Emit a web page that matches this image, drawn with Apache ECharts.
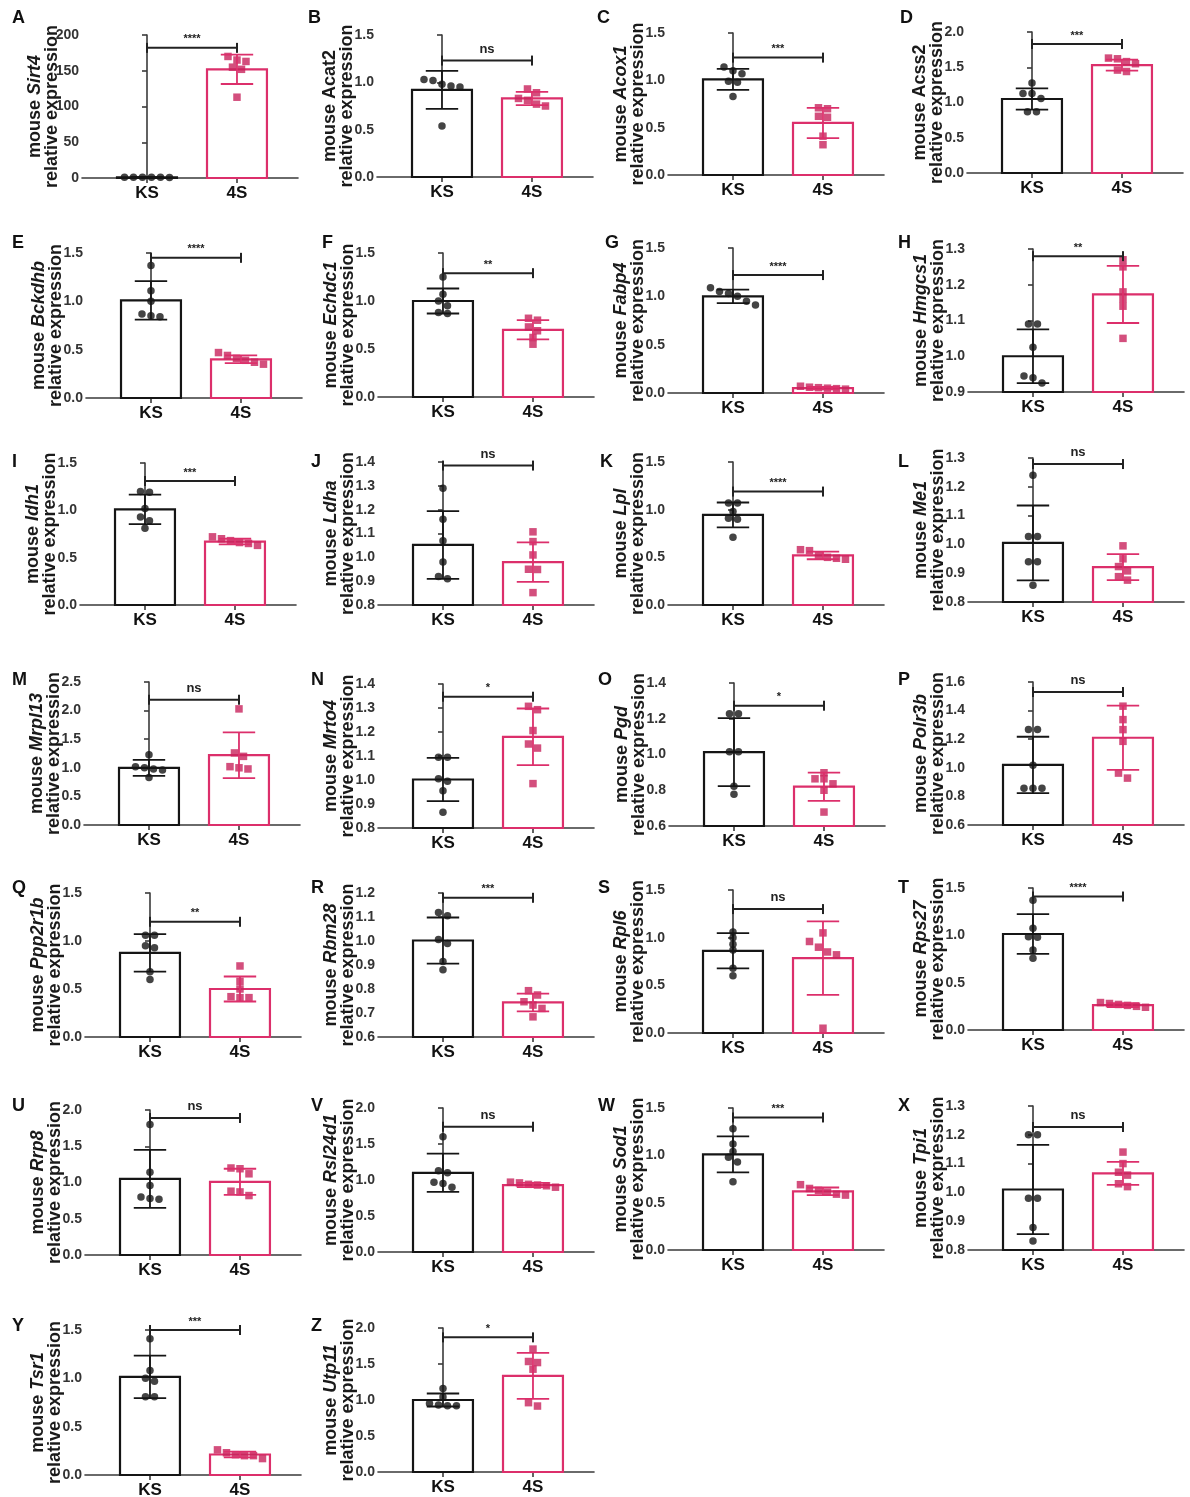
<!DOCTYPE html>
<html>
<head>
<meta charset="utf-8">
<script src="https://cdn.jsdelivr.net/npm/echarts@6/dist/echarts.min.js"></script>
<style>
html,body{margin:0;padding:0;background:#fff;}
#chart{width:1190px;height:1497px;}
</style>
</head>
<body>
<div id="chart"></div>
<script>
// ---------------- DATA ----------------
const panelLetters = ['A','B','C','D','E','F','G','H','I','J','K','L','M','N','O','P','Q','R','S','T','U','V','W','X','Y','Z'];
const genes = ['Sirt4','Acat2','Acox1','Acss2','Bckdhb','Echdc1','Fabp4','Hmgcs1','Idh1','Ldha','Lpl','Me1','Mrpl13','Mrto4','Pgd','Polr3b','Ppp2r1b','Rbm28','Rpl6','Rps27','Rrp8','Rsl24d1','Sod1','Tpi1','Tsr1','Utp11'];
const categories = ['KS','4S'];
const yMin = [0,0,0,0, 0,0,0,0.9, 0,0.8,0,0.8, 0,0.8,0.6,0.6, 0,0.6,0,0, 0,0,0,0.8, 0,0];
const yMax = [200,1.5,1.5,2.0, 1.5,1.5,1.5,1.3, 1.5,1.4,1.5,1.3, 2.5,1.4,1.4,1.6, 1.5,1.2,1.5,1.5, 2.0,2.0,1.5,1.3, 1.5,2.0];
const yInterval = [50,0.5,0.5,0.5, 0.5,0.5,0.5,0.1, 0.5,0.1,0.5,0.1, 0.5,0.1,0.2,0.2, 0.5,0.1,0.5,0.5, 0.5,0.5,0.5,0.1, 0.5,0.5];

const ksMean = [1.0,0.92,1.01,1.05, 1.01,1.0,1.0,1.0, 1.01,1.052,0.945,1.005, 1.0,1.002,1.013,1.02, 0.877,1.002,0.862,1.014, 1.05,1.1,1.01,1.01, 1.015,1.0];
const ksSD   = [0.3,0.2,0.11,0.15, 0.2,0.13,0.07,0.075, 0.155,0.142,0.13,0.13, 0.14,0.09,0.19,0.197, 0.195,0.096,0.185,0.21, 0.4,0.265,0.19,0.155, 0.22,0.09];
const ksPoints = [
  [1.2,1.0,0.9,1.1,0.8,1.0],
  [1.03,1.02,0.98,0.96,0.95,0.54],
  [1.14,1.1,1.07,0.99,0.98,0.83],
  [1.276,1.126,1.126,1.056,0.869,0.869],
  [1.37,1.11,1.0,0.87,0.85,0.84],
  [1.25,1.07,1.0,0.95,0.88,0.87],
  [1.09,1.05,1.03,1.0,0.95,0.91],
  [1.09,1.09,1.025,0.945,0.94,0.925],
  [1.2,1.19,1.02,0.93,0.89,0.81],
  [1.29,1.16,1.07,0.98,0.92,0.91],
  [1.07,1.07,0.98,0.91,0.90,0.71],
  [1.24,1.027,1.027,0.94,0.94,0.858],
  [1.23,1.02,1.0,0.98,0.96,0.83],
  [1.095,1.095,1.005,0.995,0.955,0.866],
  [1.228,1.228,1.016,1.016,0.823,0.778],
  [1.267,1.267,1.017,0.857,0.857,0.857],
  [1.06,1.06,0.95,0.93,0.68,0.6],
  [1.119,1.105,1.006,0.99,0.915,0.88],
  [1.06,1.0,0.93,0.87,0.68,0.6],
  [1.37,1.074,0.986,0.98,0.846,0.758],
  [1.8,1.14,0.96,0.8,0.78,0.77],
  [1.6,1.13,1.1,0.97,0.95,0.9],
  [1.28,1.12,1.04,0.98,0.93,0.72],
  [1.2,1.2,0.98,0.98,0.878,0.831],
  [1.41,1.08,1.0,0.97,0.81,0.81],
  [1.16,1.04,0.95,0.93,0.92,0.92]
];
const s4Mean = [152,0.83,0.55,1.53, 0.40,0.70,0.05,1.173, 0.67,0.98,0.52,0.921, 1.22,1.18,0.82,1.21, 0.50,0.744,0.785,0.263, 1.01,0.93,0.62,1.066, 0.212,1.335];
const s4SD   = [20.5,0.07,0.16,0.077, 0.04,0.1,0.012,0.08, 0.03,0.083,0.04,0.045, 0.4,0.118,0.079,0.225, 0.13,0.037,0.385,0.02, 0.18,0.03,0.04,0.04, 0.03,0.32];
const s4Points = [
  [170,165,163,155,152,113],
  [0.93,0.89,0.83,0.81,0.77,0.75],
  [0.71,0.70,0.62,0.61,0.41,0.32],
  [1.63,1.62,1.58,1.55,1.46,1.44],
  [0.47,0.44,0.41,0.39,0.37,0.35],
  [0.82,0.8,0.73,0.69,0.62,0.55],
  [0.07,0.06,0.055,0.05,0.045,0.04],
  [1.27,1.25,1.18,1.16,1.14,1.05],
  [0.72,0.7,0.68,0.66,0.65,0.63],
  [1.107,1.066,1.01,0.95,0.949,0.852],
  [0.58,0.57,0.52,0.5,0.49,0.48],
  [0.995,0.95,0.923,0.908,0.888,0.876],
  [2.03,1.26,1.2,1.02,1.0,0.98],
  [1.307,1.293,1.206,1.15,1.133,0.985],
  [0.898,0.864,0.864,0.836,0.80,0.678],
  [1.431,1.337,1.267,1.185,0.963,0.928],
  [0.74,0.58,0.5,0.42,0.41,0.41],
  [0.793,0.775,0.747,0.733,0.719,0.684],
  [1.05,0.96,0.9,0.85,0.82,0.05],
  [0.29,0.28,0.27,0.26,0.25,0.24],
  [1.2,1.19,1.12,0.88,0.87,0.82],
  [0.97,0.96,0.94,0.93,0.92,0.9],
  [0.69,0.65,0.63,0.61,0.59,0.58],
  [1.14,1.1,1.07,1.06,1.03,1.02],
  [0.26,0.23,0.21,0.2,0.2,0.17],
  [1.707,1.535,1.52,1.428,0.963,0.916]
];
const bracketY = [182,1.23,1.24,1.83, 1.45,1.29,1.22,1.28, 1.31,1.385,1.19,1.279, 2.19,1.347,1.273,1.53, 1.2,1.18,1.3,1.41, 1.89,1.74,1.4,1.227, 1.5,1.87];
const sigLabel = ['****','ns','***','***', '****','**','****','**', '***','ns','****','ns', 'ns','*','*','ns', '**','***','ns','****', 'ns','ns','***','ns', '***','*'];

// ---------------- LAYOUT / STYLE ----------------
const panelLeft   = [82,377,668,967, 86,378,668,968, 80,378,668,968, 84,378,669,968, 85,378,668,968, 85,378,668,968, 85,378];
const panelTop    = [35,35,33,32, 253,253,248,249, 463,462,462,458, 682,684,683,682, 893,893,890,888, 1110,1108,1108,1106, 1330,1328];
const panelBottom = [178,177,175,173, 398,397,393,392, 605,605,605,602, 825,828,826,825, 1037,1037,1033,1030, 1255,1252,1250,1250, 1475,1472];
const letterX = [12,308,597,900, 12,322,605,898, 12,311,600,898, 12,311,598,898, 12,311,598,898, 12,311,598,898, 12,311];
const letterY = [9,9,9,9, 234,234,234,234, 453,453,453,453, 671,671,671,671, 879,879,879,879, 1097,1097,1097,1097, 1317,1317];
const uprightGenes = new Set(['Acat2','Acss2']);
const PLOT_W = 216;
const X_MIN = -0.722, X_MAX = 1.678;
const BAR_HALF = 0.333, CAP_HALF = 0.18;
const FONT = "'Liberation Sans', Arial, sans-serif";
const KS_COLOR = '#151515';
const S4_BAR = '#dc2f6b';
const S4_DOT = '#c8235c';
const AXIS_COLOR = '#3a3a3a';

function swarmOffsets(vals, range) {
  const idx = vals.map((v, i) => i).sort((a, b) => vals[b] - vals[a]);
  const thr = range * 0.04;
  const groups = [];
  let cur = [idx[0]];
  for (let k = 1; k < idx.length; k++) {
    if (vals[cur[cur.length - 1]] - vals[idx[k]] < thr) cur.push(idx[k]);
    else { groups.push(cur); cur = [idx[k]]; }
  }
  groups.push(cur);
  const off = new Array(vals.length).fill(0);
  groups.forEach(g => {
    const n = g.length;
    g.forEach((id, j) => { off[id] = (j - (n - 1) / 2) * 0.1; });
  });
  return off;
}

const option = {
  backgroundColor: '#fff',
  animation: false,
  textStyle: { fontFamily: FONT },
  grid: [], xAxis: [], yAxis: [], series: [], graphic: []
};

for (let i = 0; i < genes.length; i++) {
  const ymn = yMin[i], ymx = yMax[i], itv = yInterval[i];
  const dec = itv >= 1 ? 0 : 1;
  option.grid.push({
    left: panelLeft[i], top: panelTop[i], width: PLOT_W, height: panelBottom[i] - panelTop[i],
    containLabel: false, outerBoundsMode: 'none'
  });
  option.xAxis.push({
    gridIndex: i, type: 'value', min: X_MIN, max: X_MAX,
    splitLine: { show: false },
    axisLine: { show: true, onZero: false, lineStyle: { color: AXIS_COLOR, width: 1.6 } },
    axisTick: { show: true, customValues: [0, 1], length: 5, lineStyle: { color: AXIS_COLOR, width: 1.6 } },
    axisLabel: {
      customValues: [0, 1], formatter: v => categories[Math.round(v)],
      fontSize: 17, fontWeight: 'bold', color: '#111', margin: 7, fontFamily: FONT
    }
  });
  const geneStyle = uprightGenes.has(genes[i]) ? 'g' : 'gi';
  option.yAxis.push({
    gridIndex: i, type: 'value', min: ymn, max: ymx, interval: itv,
    splitLine: { show: false },
    axisLine: { show: true, lineStyle: { color: AXIS_COLOR, width: 1.6 } },
    axisTick: { show: true, length: 5, lineStyle: { color: AXIS_COLOR, width: 1.6 } },
    axisLabel: {
      formatter: v => Number(v).toFixed(dec),
      fontSize: 14, fontWeight: 'bold', color: '#333', margin: 3, fontFamily: FONT
    },
    name: '{m|mouse }{' + geneStyle + '|' + genes[i] + '}\n{m|relative expression}',
    nameLocation: 'middle', nameRotate: 90, nameGap: 21, nameMoveOverlap: false,
    nameTextStyle: {
      lineHeight: 17,
      rich: {
        m: { fontSize: 18, fontWeight: 'bold', color: '#1a1a1a', fontFamily: FONT, lineHeight: 17 },
        gi: { fontSize: 18, fontWeight: 'bold', fontStyle: 'italic', color: '#1a1a1a', fontFamily: FONT, lineHeight: 17 },
        g: { fontSize: 18, fontWeight: 'bold', color: '#1a1a1a', fontFamily: FONT, lineHeight: 17 }
      }
    }
  });

  // bars
  option.series.push({
    type: 'custom', xAxisIndex: i, yAxisIndex: i, z: 1,
    data: [[0, ksMean[i]], [1, s4Mean[i]]],
    renderItem: (params, api) => {
      const g = api.value(0), m = api.value(1);
      const p1 = api.coord([g - BAR_HALF, m]);
      const p2 = api.coord([g + BAR_HALF, ymn]);
      return {
        type: 'rect',
        shape: { x: p1[0], y: p1[1], width: p2[0] - p1[0], height: p2[1] - p1[1] },
        style: { fill: '#fff', stroke: g === 0 ? KS_COLOR : S4_BAR, lineWidth: 2.2 }
      };
    }
  });

  // dots
  const range = ymx - ymn;
  const ksOff = swarmOffsets(ksPoints[i], range);
  const s4Off = swarmOffsets(s4Points[i], range);
  option.series.push({
    type: 'scatter', xAxisIndex: i, yAxisIndex: i, z: 2,
    symbol: 'circle', symbolSize: 7.5,
    itemStyle: { color: KS_COLOR },
    data: ksPoints[i].map((v, k) => [0 + ksOff[k], v])
  });
  option.series.push({
    type: 'scatter', xAxisIndex: i, yAxisIndex: i, z: 2,
    symbol: 'rect', symbolSize: 7.5,
    itemStyle: { color: S4_DOT },
    data: s4Points[i].map((v, k) => [1 + s4Off[k], v])
  });

  // error bars (mean ± SD)
  option.series.push({
    type: 'custom', xAxisIndex: i, yAxisIndex: i, z: 3,
    data: [[0, ksMean[i], ksSD[i]], [1, s4Mean[i], s4SD[i]]],
    renderItem: (params, api) => {
      const g = api.value(0), m = api.value(1), sd = api.value(2);
      const top = api.coord([g, m + sd]);
      const bot = api.coord([g, Math.max(m - sd, ymn)]);
      const l = api.coord([g - CAP_HALF, m])[0];
      const r = api.coord([g + CAP_HALF, m])[0];
      const col = g === 0 ? KS_COLOR : S4_BAR;
      const st = { stroke: col, lineWidth: 1.8 };
      return {
        type: 'group',
        children: [
          { type: 'line', shape: { x1: top[0], y1: top[1], x2: bot[0], y2: bot[1] }, style: st },
          { type: 'line', shape: { x1: l, y1: top[1], x2: r, y2: top[1] }, style: st },
          { type: 'line', shape: { x1: l, y1: bot[1], x2: r, y2: bot[1] }, style: st }
        ]
      };
    }
  });

  // significance bracket
  const lab = sigLabel[i];
  option.series.push({
    type: 'custom', xAxisIndex: i, yAxisIndex: i, z: 4,
    data: [[0.5, bracketY[i]]],
    renderItem: (params, api) => {
      const y = api.value(1);
      const a = api.coord([0, y]);
      const b = api.coord([1, y]);
      const st = { stroke: '#222', lineWidth: 2 };
      return {
        type: 'group',
        children: [
          { type: 'line', shape: { x1: a[0], y1: a[1], x2: b[0], y2: b[1] }, style: st },
          { type: 'line', shape: { x1: a[0], y1: a[1] - 5, x2: a[0], y2: a[1] + 5 }, style: st },
          { type: 'line', shape: { x1: b[0], y1: b[1] - 5, x2: b[0], y2: b[1] + 5 }, style: st },
          {
            type: 'text', x: (a[0] + b[0]) / 2, y: a[1] - (lab === 'ns' ? 5 : 3),
            style: {
              text: lab, align: 'center', verticalAlign: 'bottom',
              fontSize: lab === 'ns' ? 13 : 11, fontWeight: 'bold', fill: '#222', fontFamily: FONT
            }
          }
        ]
      };
    }
  });

  option.graphic.push({
    type: 'text', left: letterX[i], top: letterY[i],
    style: { text: panelLetters[i], fontSize: 18, fontWeight: 'bold', fill: '#111', fontFamily: FONT }
  });
}

const chart = echarts.init(document.getElementById('chart'), null, { renderer: 'canvas' });
chart.setOption(option);
</script>
</body>
</html>
